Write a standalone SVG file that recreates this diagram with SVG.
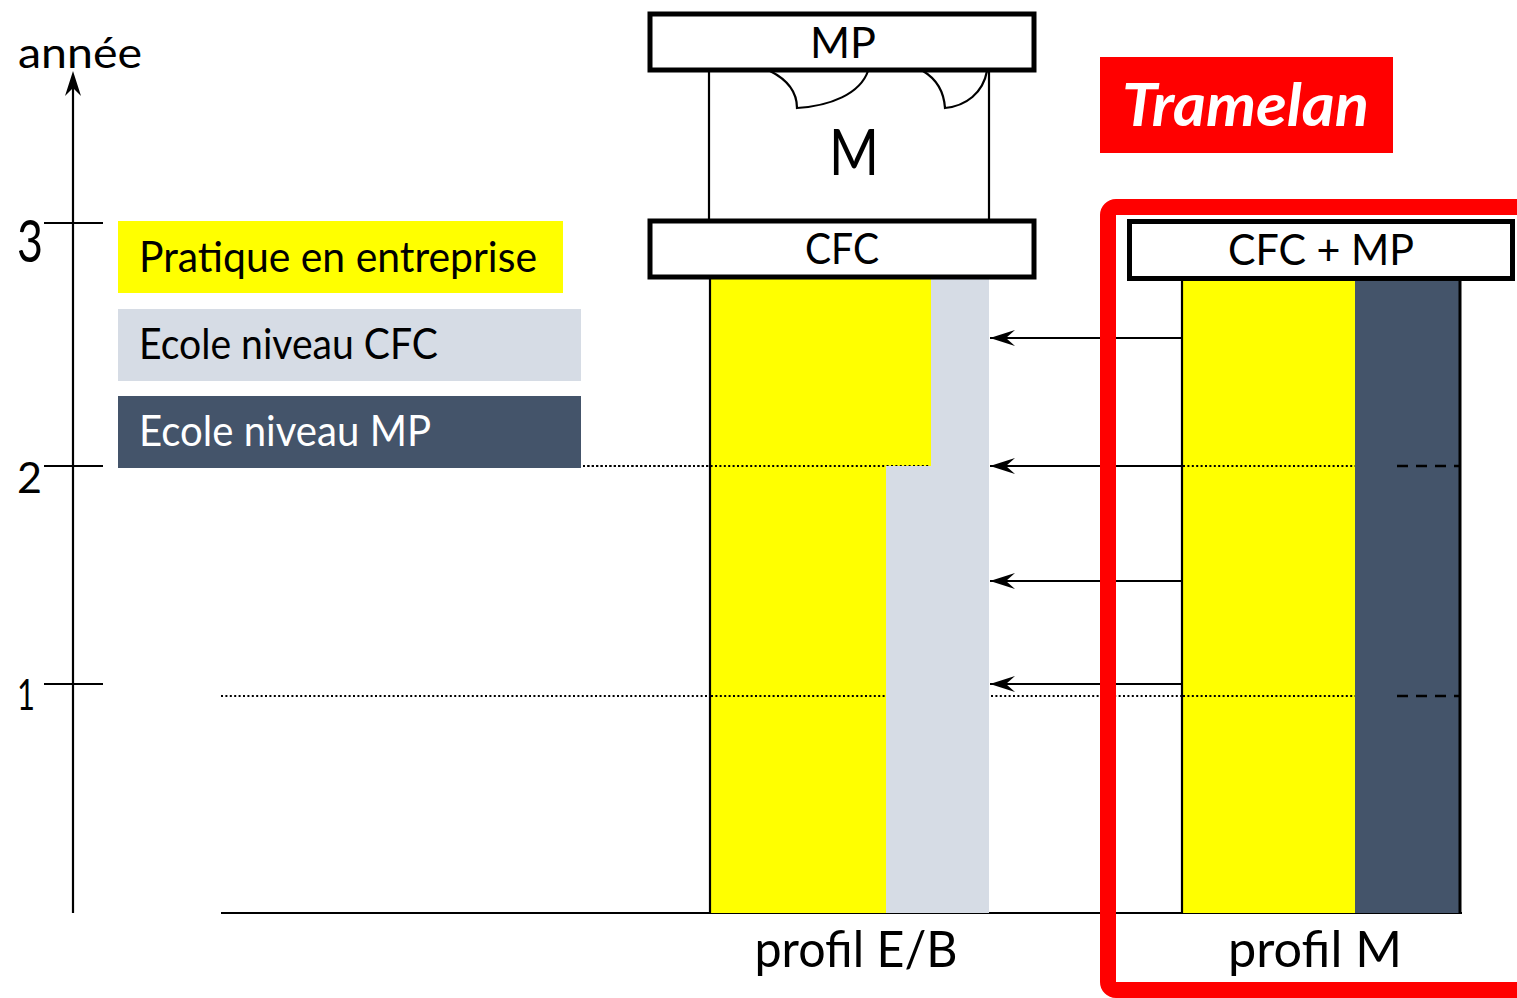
<svg xmlns="http://www.w3.org/2000/svg" width="1517" height="998" viewBox="0 0 1517 998">
<style>
text{font-family:Lato,"Open Sans","Liberation Sans",sans-serif;fill:#000}
.box{fill:#fff;stroke:#000;stroke-width:5}
.thin{stroke:#000;stroke-width:2.2;fill:none}
.dot{stroke:#000;stroke-width:2.2;stroke-dasharray:2 2.4;fill:none}
.dash{stroke:#000;stroke-width:2.5;stroke-dasharray:11 8;fill:none}
.yel{fill:#FFFF00}
.lg{fill:#D6DCE5}
.dk{fill:#44546A}
.lbl{font-size:42px}
</style>
<defs>
<marker id="ah" viewBox="0 0 26 18" refX="25" refY="9" markerWidth="26" markerHeight="18" markerUnits="userSpaceOnUse" orient="auto">
<path d="M25,9 L0,1 L9,9 L0,17 Z" fill="#000"/>
</marker>
</defs>
<rect width="1517" height="998" fill="#fff"/>

<g id="axis">
<line class="thin" x1="73" y1="913" x2="73" y2="86"/>
<path d="M73,71 L81,96 L73,88 L65,96 Z" fill="#000"/>
<line class="thin" x1="44" y1="223" x2="103" y2="223"/>
<line class="thin" x1="44" y1="466" x2="103" y2="466"/>
<line class="thin" x1="44" y1="684" x2="103" y2="684"/>
<text x="18" y="68" font-size="42" textLength="124" lengthAdjust="spacingAndGlyphs">année</text>
<text x="17" y="262" font-size="58" textLength="26" lengthAdjust="spacingAndGlyphs">3</text>
<text x="17" y="493" font-size="42" textLength="25" lengthAdjust="spacingAndGlyphs">2</text>
<text x="17" y="710" font-size="42" textLength="18" lengthAdjust="spacingAndGlyphs">1</text>
<line class="thin" x1="221" y1="913" x2="1462" y2="913"/>
</g>

<g id="legend">
<g id="legend-pratique">
<rect class="yel" x="118" y="221" width="445" height="72"/>
<text class="lbl" x="139" y="272" textLength="398" lengthAdjust="spacingAndGlyphs">Pratique en entreprise</text>
</g>
<g id="legend-cfc">
<rect class="lg" x="118" y="309" width="463" height="72"/>
<text class="lbl" x="139" y="359" textLength="299" lengthAdjust="spacingAndGlyphs">Ecole niveau CFC</text>
</g>
<g id="legend-mp">
<rect class="dk" x="118" y="396" width="463" height="72"/>
<text class="lbl" x="139" y="446" textLength="292" lengthAdjust="spacingAndGlyphs" style="fill:#fff">Ecole niveau MP</text>
</g>
</g>

<g id="guides">
<line class="dot" x1="583" y1="466" x2="930" y2="466"/>
<line class="dot" x1="221" y1="696" x2="1355" y2="696"/>
</g>

<g id="profil-eb">
<rect class="yel" x="710" y="279" width="221" height="187"/>
<rect class="yel" x="710" y="466" width="176" height="447"/>
<line class="dot" x1="583" y1="466" x2="930" y2="466"/>
<line class="dot" x1="711" y1="696" x2="886" y2="696"/>
<rect class="lg" x="931" y="279" width="58" height="187"/>
<rect class="lg" x="886" y="466" width="103" height="447"/>
<line class="thin" x1="710" y1="279" x2="710" y2="913"/>
<line class="thin" x1="709" y1="70" x2="709" y2="222"/>
<line class="thin" x1="989" y1="70" x2="989" y2="222"/>
<path class="thin" d="M770,71 C788,80 797,93 797,108 C830,106 860,94 868,71"/>
<path class="thin" d="M923,71 C938,80 944,93 945,108 C966,106 983,93 987,71"/>
<text x="854" y="175" font-size="64" text-anchor="middle" textLength="50" lengthAdjust="spacingAndGlyphs">M</text>
<rect class="box" x="650" y="14" width="384" height="56"/>
<text x="843" y="58" font-size="43" text-anchor="middle" textLength="66" lengthAdjust="spacingAndGlyphs">MP</text>
<rect class="box" x="650" y="221" width="384" height="56"/>
<text x="842" y="264" font-size="43" text-anchor="middle" textLength="74" lengthAdjust="spacingAndGlyphs">CFC</text>
<text x="856" y="967" font-size="50" text-anchor="middle" textLength="203" lengthAdjust="spacingAndGlyphs">profil E/B</text>
</g>

<g id="profil-m">
<rect class="yel" x="1183" y="279" width="172" height="634"/>
<rect class="dk" x="1355" y="279" width="104" height="634"/>
<line class="dot" x1="1183" y1="466" x2="1355" y2="466"/>
<line class="dot" x1="1183" y1="696" x2="1355" y2="696"/>
<line class="dash" x1="1397" y1="466" x2="1460" y2="466"/>
<line class="dash" x1="1397" y1="696" x2="1460" y2="696"/>
<line class="thin" x1="1182" y1="279" x2="1182" y2="913"/>
<line x1="1460" y1="279" x2="1460" y2="914" stroke="#000" stroke-width="3"/>
<rect class="box" x="1129.5" y="221.5" width="383" height="57"/>
<text x="1321" y="265" font-size="43" text-anchor="middle" textLength="186" lengthAdjust="spacingAndGlyphs">CFC + MP</text>
<text x="1315" y="967" font-size="50" text-anchor="middle" textLength="174" lengthAdjust="spacingAndGlyphs">profil M</text>
</g>

<g id="connectors">
<line class="thin" x1="1182" y1="338" x2="990" y2="338" marker-end="url(#ah)"/>
<line class="thin" x1="1182" y1="466" x2="990" y2="466" marker-end="url(#ah)"/>
<line class="thin" x1="1182" y1="581" x2="990" y2="581" marker-end="url(#ah)"/>
<line class="thin" x1="1182" y1="684" x2="990" y2="684" marker-end="url(#ah)"/>
</g>

<g id="tramelan-frame">
<rect x="1108" y="207" width="600" height="783" rx="8" fill="none" stroke="#FF0000" stroke-width="16"/>
</g>

<g id="tramelan-label">
<rect x="1100" y="57" width="293" height="96" fill="#FF0000"/>
<text x="1122" y="126" font-size="60" font-weight="bold" font-style="italic" textLength="247" lengthAdjust="spacingAndGlyphs" style="fill:#fff">Tramelan</text>
</g>
</svg>
